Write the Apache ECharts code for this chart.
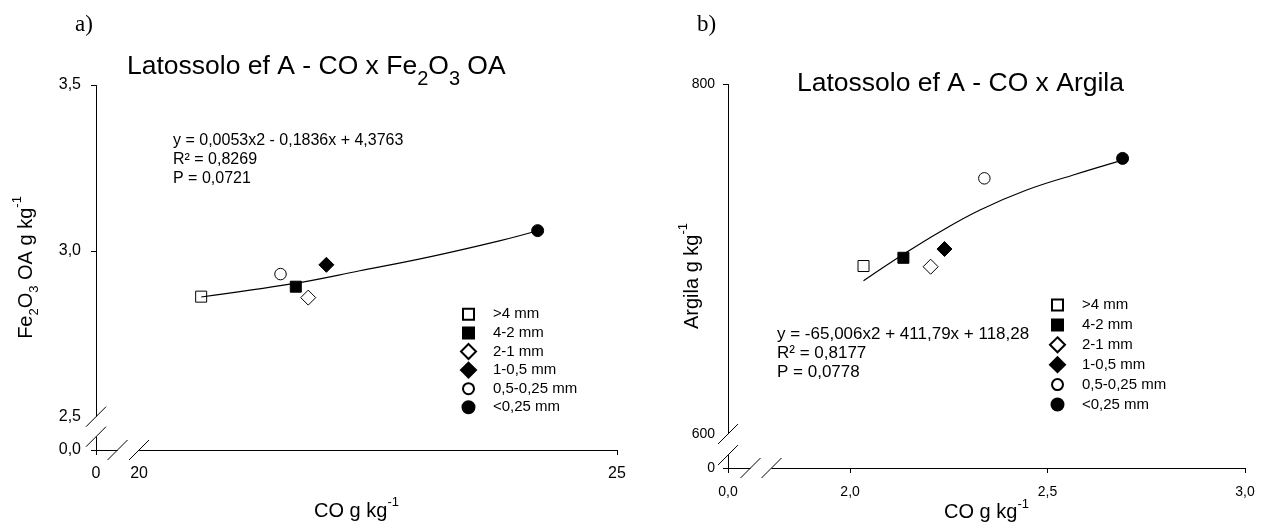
<!DOCTYPE html>
<html><head><meta charset="utf-8">
<script src="https://cdn.jsdelivr.net/npm/echarts@6/dist/echarts.min.js"></script>
<style>html,body{margin:0;padding:0;background:#fff}#c{width:1266px;height:528px}</style>
</head><body><div id="c"></div>
<script>
// ---------- data ----------
const sizeClasses = ['>4 mm', '4-2 mm', '2-1 mm', '1-0,5 mm', '0,5-0,25 mm', '<0,25 mm'];
// chart a) CO x Fe2O3 OA
const coA = [20.65, 21.64, 21.77, 21.96, 21.48, 24.17];
const feA = [2.862, 2.892, 2.859, 2.958, 2.930, 3.061];
const fitAx = [20.65, 21.61, 22.31, 23.04, 23.78, 24.16];
const fitAy = [2.861, 2.901, 2.940, 2.982, 3.031, 3.060];
// chart b) CO x Argila
const coB = [2.034, 2.135, 2.204, 2.239, 2.340, 2.690];
const argB = [696.0, 700.7, 695.6, 705.7, 746.1, 757.5];
const fitBx = [2.034, 2.135, 2.228, 2.329, 2.447, 2.565, 2.690];
const fitBy = [687.6, 702.7, 715.6, 728.0, 739.4, 748.0, 756.5];
// tick labels
const ticksAX = [0, 20, 25];
const ticksAY = [0, 2.5, 3.0, 3.5];
const ticksBX = [0, 2.0, 2.5, 3.0];
const ticksBY = [0, 600, 800];
// axis breaks
const breakAX = {start: 0.225, end: 20};
const breakAY = {start: 0.04, end: 2.5};
const breakBX = {start: 0.057, end: 1.801};
const breakBY = {start: 7.4, end: 600};

// ---------- styles ----------
const FONT = 'Liberation Sans';
const symDefs = [
  {symbol: 'rect', size: 11, fill: '#fff'},
  {symbol: 'rect', size: 11, fill: '#000'},
  {symbol: 'diamond', size: 15, fill: '#fff'},
  {symbol: 'diamond', size: 15, fill: '#000'},
  {symbol: 'circle', size: 11.5, fill: '#fff'},
  {symbol: 'circle', size: 12, fill: '#000'}
];
const legendIcons = [
  'path://M0,0M2,2L13,2L13,13L2,13ZM15,15',
  'path://M0,0M2,2L13,2L13,13L2,13ZM15,15',
  'path://M7.5,0L15,7.5L7.5,15L0,7.5Z',
  'path://M7.5,0L15,7.5L7.5,15L0,7.5Z',
  'path://M0,0M13,7.5A5.5,5.5,0,1,1,2,7.5A5.5,5.5,0,1,1,13,7.5ZM15,15',
  'path://M0,0M13.5,7.5A6,6,0,1,1,1.5,7.5A6,6,0,1,1,13.5,7.5ZM15,15'
];

function makeFormatter(ticks, dec) {
  return function (v) {
    for (const t of ticks) {
      if (Math.abs(t - v) < 1e-6) return dec ? t.toFixed(dec).replace('.', ',') : String(t);
    }
    return '';
  };
}
const nameRich = {
  n: {fontFamily: FONT, fontSize: 20, fontWeight: 'normal', color: '#000', lineHeight: 30, verticalAlign: 'middle'},
  s: {fontFamily: FONT, fontSize: 13, fontWeight: 'normal', color: '#000', lineHeight: 13, verticalAlign: 'bottom'},
  p: {fontFamily: FONT, fontSize: 13, fontWeight: 'normal', color: '#000', lineHeight: 13, verticalAlign: 'top'}
};
function axis(o) {
  return Object.assign({
    type: 'value',
    axisLine: {show: true, onZero: false, lineStyle: {color: '#000', width: 1}},
    splitLine: {show: false},
    nameLocation: 'middle',
    nameMoveOverlap: false,
    nameTextStyle: {rich: nameRich},
    breakArea: {show: false, expandOnClick: false},
    breakLabelLayout: {moveOverlap: false}
  }, o);
}
function ticksOf(arr, brk) { return arr.filter(v => v !== brk.end); }

const series = [];
sizeClasses.forEach((name, i) => {
  const d = symDefs[i];
  series.push({
    type: 'scatter', name, xAxisIndex: 0, yAxisIndex: 0,
    symbol: d.symbol, symbolSize: d.size, z: 2,
    itemStyle: {color: d.fill, borderColor: '#000', borderWidth: 1, opacity: 1},
    emphasis: {disabled: true},
    data: [[coA[i], feA[i]]]
  });
  series.push({
    type: 'scatter', name, xAxisIndex: 1, yAxisIndex: 1,
    symbol: d.symbol, symbolSize: d.size, z: 2,
    itemStyle: {color: d.fill, borderColor: '#000', borderWidth: 1, opacity: 1},
    emphasis: {disabled: true},
    data: [[coB[i], argB[i]]]
  });
});
series.push({
  type: 'line', name: 'fitA', xAxisIndex: 0, yAxisIndex: 0, smooth: 0.4,
  symbol: 'none', z: 3, silent: true,
  lineStyle: {color: '#000', width: 1.2},
  data: fitAx.map((x, i) => [x, fitAy[i]])
});
series.push({
  type: 'line', name: 'fitB', xAxisIndex: 1, yAxisIndex: 1, smooth: 0.4,
  symbol: 'none', z: 3, silent: true,
  lineStyle: {color: '#000', width: 1.2},
  data: fitBx.map((x, i) => [x, fitBy[i]])
});

const legendData = sizeClasses.map((n, i) => ({name: n, icon: legendIcons[i]}));
function legend(left, top, gap) {
  return {
    orient: 'vertical', left, top, itemWidth: 15, itemHeight: 15, itemGap: gap,
    selectedMode: false, padding: 0,
    data: legendData,
    textStyle: {fontFamily: FONT, fontSize: 15, color: '#000', lineHeight: 15, padding: [0, 0, 0, 12]}
  };
}
const titleRich = {
  n: {fontFamily: FONT, fontSize: 26.5, fontWeight: 'normal', color: '#000', lineHeight: 44, verticalAlign: 'middle'},
  s: {fontFamily: FONT, fontSize: 20, fontWeight: 'normal', color: '#000', lineHeight: 20, verticalAlign: 'bottom'}
};

const option = {
  animation: false,
  backgroundColor: '#fff',
  title: [
    {text: '{n|Latossolo ef A - CO x Fe}{s|2}{n|O}{s|3}{n| OA}', left: 127, top: 45, padding: 0,
     textStyle: {fontWeight: 'normal', rich: titleRich}},
    {text: '{n|Latossolo ef A - CO x Argila}', left: 797, top: 62, padding: 0,
     textStyle: {fontWeight: 'normal', rich: titleRich}}
  ],
  legend: [legend(460, 305.8, 1.6), legend(1049, 296.5, 2.9)],
  grid: [
    {left: 96, top: 85, width: 521, height: 365, outerBoundsMode: 'none', containLabel: false},
    {left: 728, top: 84, width: 517, height: 384, outerBoundsMode: 'none', containLabel: false}
  ],
  xAxis: [
    axis({gridIndex: 0, min: 0, max: 25, interval: 5,
      breaks: [{start: breakAX.start, end: breakAX.end, gap: '4.13%'}],
      axisTick: {show: true, length: 5, lineStyle: {color: '#000', width: 1}, customValues: ticksOf(ticksAX, breakAX)},
      axisLabel: {color: '#000', fontFamily: FONT, fontSize: 16, margin: 16, customValues: ticksAX, formatter: makeFormatter(ticksAX, 0)},
      name: '{n|CO g kg}{p|-1}', nameGap: 46}),
    axis({gridIndex: 1, min: 0, max: 3.0, interval: 0.5,
      breaks: [{start: breakBX.start, end: breakBX.end, gap: '4.06%'}],
      axisTick: {show: true, length: 5, lineStyle: {color: '#000', width: 1}, customValues: ticksOf(ticksBX, breakBX)},
      axisLabel: {color: '#000', fontFamily: FONT, fontSize: 14, margin: 17, customValues: ticksBX, formatter: makeFormatter(ticksBX, 1)},
      name: '{n|CO g kg}{p|-1}', nameGap: 29.5})
  ],
  yAxis: [
    axis({gridIndex: 0, min: 0, max: 3.5, interval: 0.5,
      breaks: [{start: breakAY.start, end: breakAY.end, gap: '5.48%'}],
      axisTick: {show: true, length: 5, lineStyle: {color: '#000', width: 1}, customValues: ticksOf(ticksAY, breakAY)},
      axisLabel: {color: '#000', fontFamily: FONT, fontSize: 16, margin: 15, customValues: ticksAY, formatter: makeFormatter(ticksAY, 1)},
      name: '{n|Fe}{s|2}{n|O}{s|3}{n| OA g kg}{p|-1}', nameGap: 55}),
    axis({gridIndex: 1, min: 0, max: 800, interval: 200,
      breaks: [{start: breakBY.start, end: breakBY.end, gap: '5.47%'}],
      axisTick: {show: true, length: 5, lineStyle: {color: '#000', width: 1}, customValues: ticksOf(ticksBY, breakBY)},
      axisLabel: {color: '#000', fontFamily: FONT, fontSize: 14, margin: 13, customValues: ticksBY, formatter: makeFormatter(ticksBY, 0)},
      name: '{n|Argila g kg}{p|-1}', nameGap: 21})
  ],
  series
};

const chart = echarts.init(document.getElementById('c'), null, {renderer: 'canvas'});
chart.setOption(option);

// ---------- annotations: axis-break marks ----------
function slash(p, id) {
  return {type: 'line', id, silent: true, z: 100,
    shape: {x1: p[0] - 10, y1: p[1] + 10, x2: p[0] + 10, y2: p[1] - 10},
    style: {stroke: '#000', lineWidth: 1}};
}
function gapV(p1, p2, id) {
  return {type: 'rect', id, silent: true, z: 90,
    shape: {x: p1[0] - 3, y: Math.min(p1[1], p2[1]), width: 6, height: Math.abs(p1[1] - p2[1])},
    style: {fill: '#fff'}};
}
function gapH(p1, p2, id) {
  return {type: 'rect', id, silent: true, z: 90,
    shape: {x: Math.min(p1[0], p2[0]), y: p1[1] - 3, width: Math.abs(p1[0] - p2[0]), height: 6},
    style: {fill: '#fff'}};
}
const pA = (x, y) => chart.convertToPixel({xAxisIndex: 0, yAxisIndex: 0}, [x, y]);
const pB = (x, y) => chart.convertToPixel({xAxisIndex: 1, yAxisIndex: 1}, [x, y]);
const ay1 = pA(0, breakAY.start), ay2 = pA(0, breakAY.end);
const ax1 = pA(breakAX.start, 0), ax2 = pA(breakAX.end, 0);
const by1 = pB(0, breakBY.start), by2 = pB(0, breakBY.end);
const bx1 = pB(breakBX.start, 0), bx2 = pB(breakBX.end, 0);
const graphics = [
  {type: 'text', id: 'ta', left: 75, top: 13, style: {text: 'a)', font: '23px "Liberation Serif"', fill: '#000'}},
  {type: 'text', id: 'tb', left: 697, top: 13, style: {text: 'b)', font: '23px "Liberation Serif"', fill: '#000'}},
  {type: 'text', id: 'eqA', left: 173, top: 131,
   style: {text: 'y = 0,0053x2 - 0,1836x + 4,3763\nR² = 0,8269\nP = 0,0721', font: '16px "Liberation Sans"', lineHeight: 19, fill: '#000'}},
  {type: 'text', id: 'eqB', left: 777, top: 325,
   style: {text: 'y = -65,006x2 + 411,79x + 118,28\nR² = 0,8177\nP = 0,0778', font: '17px "Liberation Sans"', lineHeight: 19, fill: '#000'}},
  gapV(ay1, ay2, 'gay'), gapH(ax1, ax2, 'gax'), gapV(by1, by2, 'gby'), gapH(bx1, bx2, 'gbx'),
  slash(ay1, 'ay1'), slash(ay2, 'ay2'), slash(ax1, 'ax1'), slash(ax2, 'ax2'),
  slash(by1, 'by1'), slash(by2, 'by2'), slash(bx1, 'bx1'), slash(bx2, 'bx2')
];
chart.setOption({graphic: graphics});
</script>
</body></html>
